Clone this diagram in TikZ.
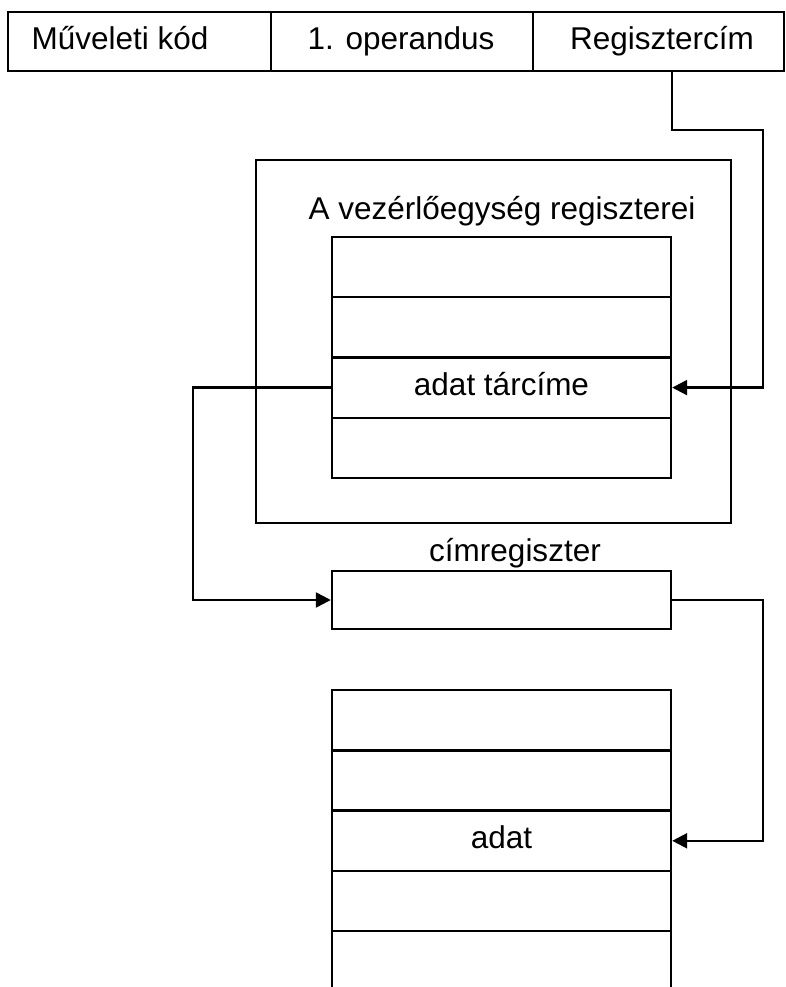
\documentclass[tikz,border=0pt]{standalone}
\usepackage{fontspec}
\setmainfont{Liberation Sans}
\usetikzlibrary{arrows.meta}
\begin{document}
\begin{tikzpicture}[x=1pt,y=-1pt,
  line width=2.4pt,
  every node/.style={font=\fontsize{31.5}{38}\selectfont, inner sep=0pt,
    text height=23pt, text depth=7pt},
  cell/.style={draw, minimum height=59pt},
  reg/.style={draw, minimum width=339pt, minimum height=60.25pt},
  arr/.style={-{Triangle[length=15pt,width=15pt]}},
  ]
\useasboundingbox (0,0) rectangle (785,987);

% instruction word
\node[cell, minimum width=263pt] (op)  at (139.5,41.5) {};
\node[cell, minimum width=262pt] (opa) at (402,41.5) {};
\node[cell, minimum width=251pt] (rc)  at (658.5,41.5) {};
\node (opt)  at (120,41.5) {Műveleti kód};
\node (opat) at (401,41.5) {1. operandus};
\node (rct)  at (662,41.5) {Regisztercím};

% control unit registers
\node[draw, minimum width=475pt, minimum height=363pt] (cu) at (493.5,341.5) {};
\node (cutitle) at (502,211) {A vezérlőegység regiszterei};
\node[reg] (t1) at (501.5,267.1) {};
\node[reg] (t2) at (501.5,327.4) {};
\node[reg] (t3) at (501.5,387.6) {adat tárcíme};
\node[reg] (t4) at (501.5,447.9) {};

% address register
\node (cimlabel) at (515,553) {címregiszter};
\node[draw, minimum width=339pt, minimum height=58pt] (cim) at (501.5,600) {};

% memory
\node[reg] (m1) at (501.5,720.2) {};
\node[reg] (m2) at (501.5,780.5) {};
\node[reg] (m3) at (501.5,840.8) {adat};
\node[reg] (m4) at (501.5,901.1) {};
\node[reg] (m5) at (501.5,961.4) {};

% connectors
\coordinate (rtop) at (763,130);
\coordinate (lx) at (193,600);
\coordinate (rx) at (763,600);
\draw[arr] (rc.south -| t3.east) |- (rtop) |- (t3.east);
\draw[arr] (t3.west) -| (lx) -- (cim.west);
\draw[arr] (cim.east) -- (rx) |- (m3.east);
\end{tikzpicture}
\end{document}
